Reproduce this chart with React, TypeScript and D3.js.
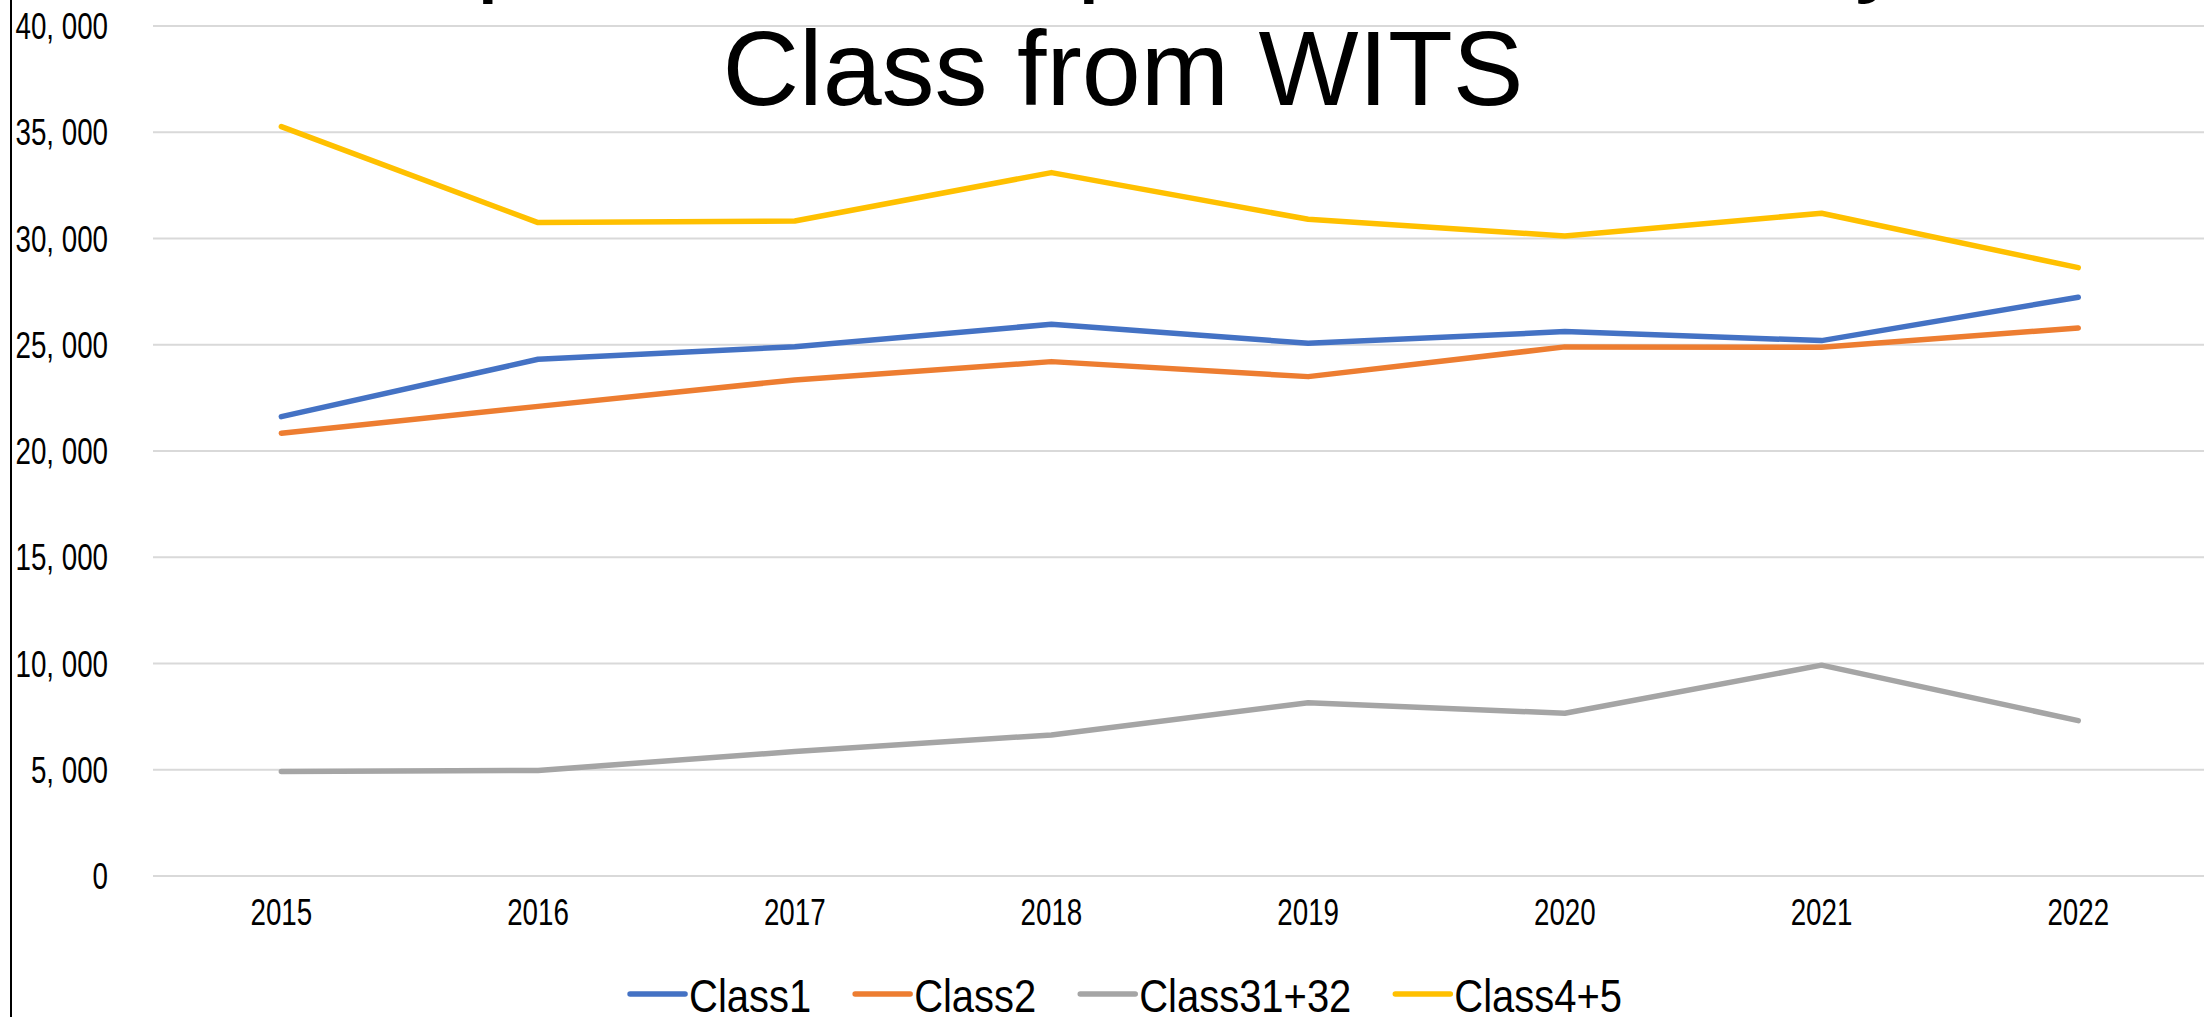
import * as d3 from "d3";
import React, {useRef, useEffect} from "react";

const years = ["2015", "2016", "2017", "2018", "2019", "2020", "2021", "2022"];

const class1 = [21617, 24315, 24911, 25963, 25069, 25618, 25195, 27234];
const class2 = [20832, 22100, 23343, 24206, 23500, 24900, 24880, 25790];
const class31_32 = [4920, 4970, 5860, 6640, 8156, 7656, 9922, 7312];
const class4_5 = [35267, 30748, 30826, 33102, 30905, 30120, 31187, 28630];

const seriesNames = ["Class1", "Class2", "Class31+32", "Class4+5"];
const seriesColors = ["#4472C4", "#ED7D31", "#A5A5A5", "#FFC000"];

const yTicks = [0, 5000, 10000, 15000, 20000, 25000, 30000, 35000, 40000];

// title is cut off at the top of the picture, only the descenders of the first line show
const titleLines = ["Import Amount per Household by", "Class from WITS"];

// no narrow font installed, so the tick and legend text is squeezed horizontally
const tickFont = "'Liberation Sans', Arial, sans-serif";
const tickSize = 37;
const tickSqueeze = 0.75;
const legendSize = 47;
const legendSqueeze = 0.85;

function LineChart() {

    const ref = useRef<SVGSVGElement>(null);

    useEffect(() => {

        const width = 2204;
        const height = 1017;

        const svg = d3.select(ref.current);
        svg.selectAll("*").remove();

        svg.append("rect")
            .attr("width", width)
            .attr("height", height)
            .attr("fill", "white");

        // left border of the chart area
        svg.append("line")
            .attr("x1", 11).attr("x2", 11)
            .attr("y1", 0).attr("y2", height)
            .attr("stroke", "black")
            .attr("stroke-width", 2);

        const x = d3.scaleBand()
            .domain(years)
            .range([153, 153 + 8 * 256.7]);

        const y = d3.scaleLinear()
            .domain([0, 40000])
            .range([876, 26]);

        const cx = (d: string) => (x(d) as number) + x.bandwidth() / 2;

        // gridlines
        svg.append("g")
            .selectAll("line")
            .data(yTicks)
            .enter()
            .append("line")
            .attr("x1", 153)
            .attr("x2", width)
            .attr("y1", d => y(d))
            .attr("y2", d => y(d))
            .attr("stroke", "#d9d9d9")
            .attr("stroke-width", 2);

        const fmt = d3.format(",");

        // y labels
        svg.append("g")
            .selectAll("text")
            .data(yTicks)
            .enter()
            .append("text")
            .attr("transform", d => `translate(108, ${y(d) + 13}) scale(${tickSqueeze}, 1)`)
            .attr("text-anchor", "end")
            .attr("font-family", tickFont)
            .attr("font-size", tickSize)
            .attr("fill", "black")
            .text(d => fmt(d).replace(",", ", "));

        // x labels
        svg.append("g")
            .selectAll("text")
            .data(years)
            .enter()
            .append("text")
            .attr("transform", d => `translate(${cx(d)}, 925) scale(${tickSqueeze}, 1)`)
            .attr("text-anchor", "middle")
            .attr("font-family", tickFont)
            .attr("font-size", tickSize)
            .attr("fill", "black")
            .text(d => d);

        const allSeries = [class1, class2, class31_32, class4_5];

        const line = d3.line<number>()
            .x((d, i) => cx(years[i]))
            .y(d => y(d));

        svg.append("g")
            .selectAll("path")
            .data(allSeries)
            .enter()
            .append("path")
            .attr("d", d => line(d))
            .attr("fill", "none")
            .attr("stroke", (d, i) => seriesColors[i])
            .attr("stroke-width", 5.5)
            .attr("stroke-linecap", "round")
            .attr("stroke-linejoin", "round");

        // title
        svg.append("g")
            .selectAll("text")
            .data(titleLines)
            .enter()
            .append("text")
            .attr("x", (d, i) => i === 0 ? 1133 : 1123)
            .attr("y", (d, i) => i === 0 ? -18 : 105)
            .attr("text-anchor", "middle")
            .attr("font-family", "'Liberation Sans', Arial, sans-serif")
            .attr("font-size", 106)
            .attr("fill", "black")
            .text(d => d);

        // legend
        const legend = svg.append("g").attr("class", "legend");
        const items = legend.selectAll(".legendItem")
            .data(seriesNames)
            .enter()
            .append("g")
            .attr("class", "legendItem");

        items.append("line")
            .attr("x1", 0).attr("x2", 55)
            .attr("y1", 994).attr("y2", 994)
            .attr("stroke", (d, i) => seriesColors[i])
            .attr("stroke-width", 5.5)
            .attr("stroke-linecap", "round");

        items.append("text")
            .attr("transform", `translate(59, 1012) scale(${legendSqueeze}, 1)`)
            .attr("font-family", tickFont)
            .attr("font-size", legendSize)
            .attr("fill", "black")
            .text(d => d);

        const widths: number[] = [];
        items.select("text").each(function () {
            widths.push(59 + (this as SVGTextElement).getComputedTextLength() * legendSqueeze);
        });
        const gap = 44;
        const total = d3.sum(widths) + gap * (widths.length - 1);
        let pos = 1126 - total / 2;
        items.attr("transform", (d, i) => {
            const t = `translate(${pos}, 0)`;
            pos += widths[i] + gap;
            return t;
        });

    }, []);

    return (
        <svg ref={ref} width={2204} height={1017}
             style={{position: "absolute", left: 0, top: 0, display: "block"}}/>
    );
}

export default function App() {
    return <LineChart/>;
}
